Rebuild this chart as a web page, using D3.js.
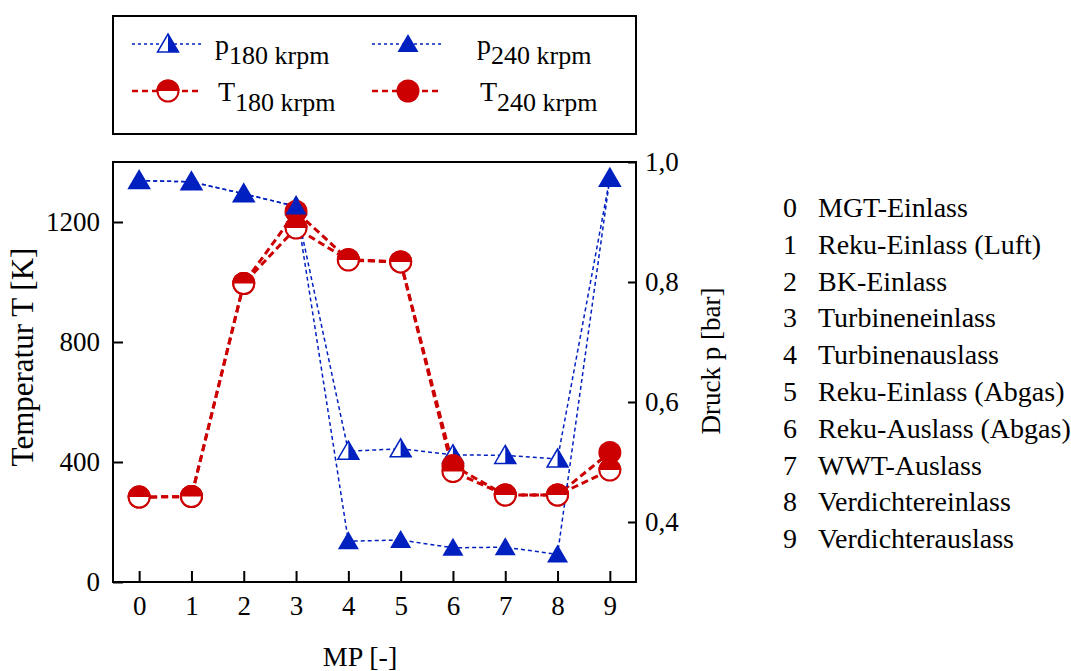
<!DOCTYPE html>
<html>
<head>
<meta charset="utf-8">
<script src="https://cdn.jsdelivr.net/npm/d3@7"></script>
<style>
  body { margin: 0; background: #fff; }
  svg text { font-family: "Liberation Serif", "Times New Roman", serif; fill: #000; }
</style>
</head>
<body>
<svg id="chart" width="1071" height="671"></svg>
<script>
var mp = [0, 1, 2, 3, 4, 5, 6, 7, 8, 9];
var p180 = [0.969, 0.967, 0.947, 0.926, 0.518, 0.522, 0.512, 0.511, 0.505, 0.973];
var p240 = [0.969, 0.967, 0.947, 0.926, 0.368, 0.370, 0.357, 0.358, 0.346, 0.973];
var T180 = [283, 285, 995, 1180, 1073, 1067, 368, 290, 290, 373];
var T240 = [283, 285, 995, 1235, 1075, 1067, 388, 290, 290, 432];

var tTicks = [0, 400, 800, 1200];
var pTicks = [0.4, 0.6, 0.8, 1.0];
var mpNames = ["MGT-Einlass", "Reku-Einlass (Luft)", "BK-Einlass", "Turbineneinlass",
  "Turbinenauslass", "Reku-Einlass (Abgas)", "Reku-Auslass (Abgas)", "WWT-Auslass",
  "Verdichtereinlass", "Verdichterauslass"];

var blue = "#0020c0", red = "#cc0000";

var svg = d3.select("#chart");
svg.append("rect").attr("width", 1071).attr("height", 671).attr("fill", "#fff");

var plot = {left: 113, right: 636, top: 162, bottom: 582};

var x = d3.scaleLinear().domain([-0.5, 9.5]).range([plot.left, plot.right]);
var yT = d3.scaleLinear().domain([0, 1400]).range([plot.bottom, plot.top]);
var yP = d3.scaleLinear().domain([0.3, 1.0]).range([plot.bottom, plot.top]);

// axes (ticks pointing inward)
function styleAxis(g, size) {
  g.select(".domain").remove();
  g.selectAll(".tick line").attr("stroke", "#000").attr("stroke-width", 2);
  g.selectAll(".tick text").attr("font-size", size + "px");
}

svg.append("g")
  .attr("transform", "translate(" + plot.left + ",0)")
  .call(d3.axisLeft(yT).tickValues(tTicks).tickSize(-10).tickPadding(13).tickFormat(d3.format("d")))
  .call(styleAxis, 27);

svg.append("g")
  .attr("transform", "translate(" + plot.right + ",0)")
  .call(d3.axisRight(yP).tickValues(pTicks).tickSize(-8).tickPadding(9)
    .tickFormat(function(d) {return d.toFixed(1).replace(".", ",")}))
  .call(styleAxis, 27);

svg.append("g")
  .attr("transform", "translate(0," + plot.bottom + ")")
  .call(d3.axisBottom(x).tickValues(mp).tickSize(-11).tickPadding(14))
  .call(styleAxis, 27);

svg.append("rect")
  .attr("x", plot.left).attr("y", plot.top)
  .attr("width", plot.right - plot.left).attr("height", plot.bottom - plot.top)
  .attr("fill", "none").attr("stroke", "#000").attr("stroke-width", 2);

// axis titles
svg.append("text").attr("x", 360).attr("y", 666)
  .attr("text-anchor", "middle").attr("font-size", "28px").text("MP [-]");
svg.append("text").attr("transform", "translate(33,357) rotate(-90)")
  .attr("text-anchor", "middle").attr("font-size", "31px").text("Temperatur T [K]");
svg.append("text").attr("transform", "translate(720,361) rotate(-90)")
  .attr("text-anchor", "middle").attr("font-size", "27px").text("Druck p [bar]");

// markers
function triangle(g, cx, cy, half) {
  var w = 10.5, top = cy - 10, bot = cy + 8;
  var full = "M" + cx + "," + top + "L" + (cx + w) + "," + bot + "L" + (cx - w) + "," + bot + "Z";
  if (half) {
    g.append("path").attr("d", full)
      .attr("fill", "#fff").attr("stroke", blue).attr("stroke-width", 1.5);
    g.append("path").attr("d", "M" + cx + "," + top + "L" + (cx + w) + "," + bot + "L" + cx + "," + bot + "Z")
      .attr("fill", blue);
  } else {
    g.append("path").attr("d", full).attr("fill", blue);
  }
}

function circle(g, cx, cy, half) {
  var r = 11.5;
  if (half) {
    g.append("circle").attr("cx", cx).attr("cy", cy).attr("r", r - 1)
      .attr("fill", "#fff").attr("stroke", red).attr("stroke-width", 2);
    g.append("path").attr("d", "M" + (cx - r) + "," + cy + "A" + r + "," + r + " 0 0 1 " + (cx + r) + "," + cy + "Z")
      .attr("fill", red);
  } else {
    g.append("circle").attr("cx", cx).attr("cy", cy).attr("r", r).attr("fill", red);
  }
}

var series = [
  {vals: p180, y: yP, color: blue, width: 1.5, dash: "4,3", mark: triangle, half: true},
  {vals: T240, y: yT, color: red, width: 3, dash: "7,4", mark: circle, half: false},
  {vals: T180, y: yT, color: red, width: 3, dash: "7,4", mark: circle, half: true},
  {vals: p240, y: yP, color: blue, width: 1.5, dash: "4,3", mark: triangle, half: false}
];

var lines = svg.append("g");
var marks = svg.append("g");
series.forEach(function(s) {
  var line = d3.line().x(function(d, i) {return x(mp[i])}).y(function(d) {return s.y(d)});
  lines.append("path").attr("d", line(s.vals))
    .attr("fill", "none").attr("stroke", s.color)
    .attr("stroke-width", s.width).attr("stroke-dasharray", s.dash);
});
series.forEach(function(s) {
  var g = marks.append("g");
  s.vals.forEach(function(d, i) {s.mark(g, x(mp[i]), s.y(d), s.half)});
});

// legend
var legend = svg.append("g");
legend.append("rect").attr("x", 113).attr("y", 16).attr("width", 523).attr("height", 118)
  .attr("fill", "#fff").attr("stroke", "#000").attr("stroke-width", 2);

var legendItems = [
  {sym: "p", sub: "180 krpm", col: 0, row: 0, s: series[0]},
  {sym: "p", sub: "240 krpm", col: 1, row: 0, s: series[3]},
  {sym: "T", sub: "180 krpm", col: 0, row: 1, s: series[2]},
  {sym: "T", sub: "240 krpm", col: 1, row: 1, s: series[1]}
];
var colX = [168, 408], rowY = [44, 91], textX = [[215, 477], [218, 480]];

legendItems.forEach(function(it) {
  var cx = colX[it.col], cy = rowY[it.row];
  legend.append("line").attr("x1", cx - 36).attr("x2", cx + 34).attr("y1", cy).attr("y2", cy)
    .attr("stroke", it.s.color).attr("stroke-width", it.s.width === 3 ? 2.5 : 1.5)
    .attr("stroke-dasharray", it.s.width === 3 ? "6,4" : "3,3");
  it.s.mark(legend, cx, cy, it.s.half);
  var t = legend.append("text").attr("x", textX[it.row][it.col]).attr("y", cy + 10)
    .attr("font-size", "28px");
  t.append("tspan").text(it.sym);
  t.append("tspan").attr("dy", 10).attr("font-size", "26px").text(it.sub);
});

// list of measuring points
var list = svg.append("g");
mpNames.forEach(function(name, i) {
  var yy = 217 + i * 36.8;
  list.append("text").attr("x", 783).attr("y", yy).attr("font-size", "28px").text(mp[i]);
  list.append("text").attr("x", 818).attr("y", yy).attr("font-size", "28px").text(name);
});
</script>
</body>
</html>
